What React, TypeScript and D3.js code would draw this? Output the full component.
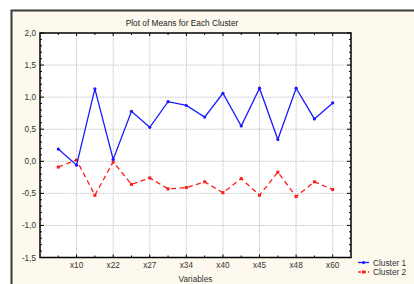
import React from "react";
import * as d3 from "d3";

const tickLabels = ["x10", "x22", "x27", "x34", "x40", "x45", "x48", "x60"];
const labelIndex = [2, 4, 6, 8, 10, 12, 14, 16];
const yTicks = [-1.5, -1.0, -0.5, 0.0, 0.5, 1.0, 1.5, 2.0];
const cluster1 = [0.19, -0.06, 1.13, 0.03, 0.78, 0.53, 0.93, 0.87, 0.69, 1.06, 0.55, 1.14, 0.34, 1.14, 0.66, 0.91];
const cluster2 = [-0.09, 0.02, -0.53, -0.01, -0.36, -0.26, -0.43, -0.41, -0.32, -0.49, -0.27, -0.53, -0.17, -0.55, -0.32, -0.44];
const seriesNames = ["Cluster 1", "Cluster 2"];

const W = 414, H = 284;
const L = 40, R = 351, T = 33, B = 257.5;
const FONT = "'Liberation Sans', Arial, sans-serif";

export default function App() {
  const x = d3.scaleLinear().domain([0, 17]).range([L, R]);
  const y = d3.scaleLinear().domain([-1.5, 2]).range([B, T]);
  const idx = d3.range(1, 17);
  const line = d3.line<number>().x((_, i) => x(i + 1)).y(d => y(d));
  const minor = d3.range(-15, 21).map(v => v / 10);

  return (
    <svg width={W} height={H} style={{ position: "absolute", left: 0, top: 0 }} fontFamily={FONT}>
      <rect x={0} y={0} width={W} height={H} fill="#ffffff" />
      <rect x={11.5} y={10.5} width={420} height={290} fill="#fdf9ee" stroke="#3a3a3a" strokeWidth={2} />
      <text x={182} y={25.5} fontSize={8.3} textAnchor="middle" fill="#222">Plot of Means for Each Cluster</text>
      <rect x={L} y={T} width={R - L} height={B - T} fill="#ffffff" />
      {labelIndex.map(i => (
        <line key={"gv" + i} x1={x(i)} x2={x(i)} y1={T} y2={B} stroke="#c4c4c4" strokeWidth={1} strokeDasharray="1.5,1" />
      ))}
      {yTicks.slice(1, -1).map(v => (
        <line key={"gh" + v} x1={L} x2={R} y1={y(v)} y2={y(v)} stroke="#c4c4c4" strokeWidth={1} strokeDasharray="1.5,1" />
      ))}
      {minor.map(v => {
        const major = Math.abs(v * 2 - Math.round(v * 2)) < 1e-6;
        const len = major ? 4 : 2;
        return (
          <g key={"mt" + v}>
            <line x1={L} x2={L + len} y1={y(v)} y2={y(v)} stroke="#000" strokeWidth={1} />
            <line x1={R} x2={R - len} y1={y(v)} y2={y(v)} stroke="#000" strokeWidth={1} />
          </g>
        );
      })}
      {idx.map(i => (
        <g key={"xt" + i}>
          <line x1={x(i)} x2={x(i)} y1={B} y2={B - (i % 2 === 0 ? 3 : 2)} stroke="#000" strokeWidth={1} />
          <line x1={x(i)} x2={x(i)} y1={T} y2={T + (i % 2 === 0 ? 3 : 2)} stroke="#000" strokeWidth={1} />
        </g>
      ))}
      <rect x={L} y={T} width={R - L} height={B - T} fill="none" stroke="#000" strokeWidth={1.5} />
      {yTicks.map(v => (
        <text key={"yl" + v} x={36} y={y(v) + 3} fontSize={8.2} textAnchor="end" fill="#333">
          {d3.format(".1f")(v).replace(".", ",").replace("−", "-")}
        </text>
      ))}
      {labelIndex.map((i, k) => (
        <text key={"xl" + i} x={x(i)} y={268} fontSize={8.2} textAnchor="middle" fill="#333">{tickLabels[k]}</text>
      ))}
      <text x={(L + R) / 2} y={281.5} fontSize={8.3} textAnchor="middle" fill="#333">Variables</text>

      <path d={line(cluster2) || ""} fill="none" stroke="#ff1a1a" strokeWidth={1.3} strokeDasharray="5,3.5" />
      {cluster2.map((v, i) => (
        <rect key={"m2" + i} x={x(i + 1) - 1.5} y={y(v) - 1.5} width={3} height={3} fill="#ff1a1a" />
      ))}
      <path d={line(cluster1) || ""} fill="none" stroke="#1a1aff" strokeWidth={1.3} />
      {cluster1.map((v, i) => (
        <circle key={"m1" + i} cx={x(i + 1)} cy={y(v)} r={1.6} fill="#1a1aff" />
      ))}

      <line x1={358} x2={369} y1={262.5} y2={262.5} stroke="#1a1aff" strokeWidth={1.3} />
      <circle cx={363.5} cy={262.5} r={1.6} fill="#1a1aff" />
      <text x={373} y={265.5} fontSize={8.3} fill="#333">{seriesNames[0]}</text>
      <line x1={358} x2={369} y1={272} y2={272} stroke="#ff1a1a" strokeWidth={1.3} strokeDasharray="3,2" />
      <rect x={362} y={270.5} width={3} height={3} fill="#ff1a1a" />
      <text x={373} y={275} fontSize={8.3} fill="#333">{seriesNames[1]}</text>
    </svg>
  );
}
